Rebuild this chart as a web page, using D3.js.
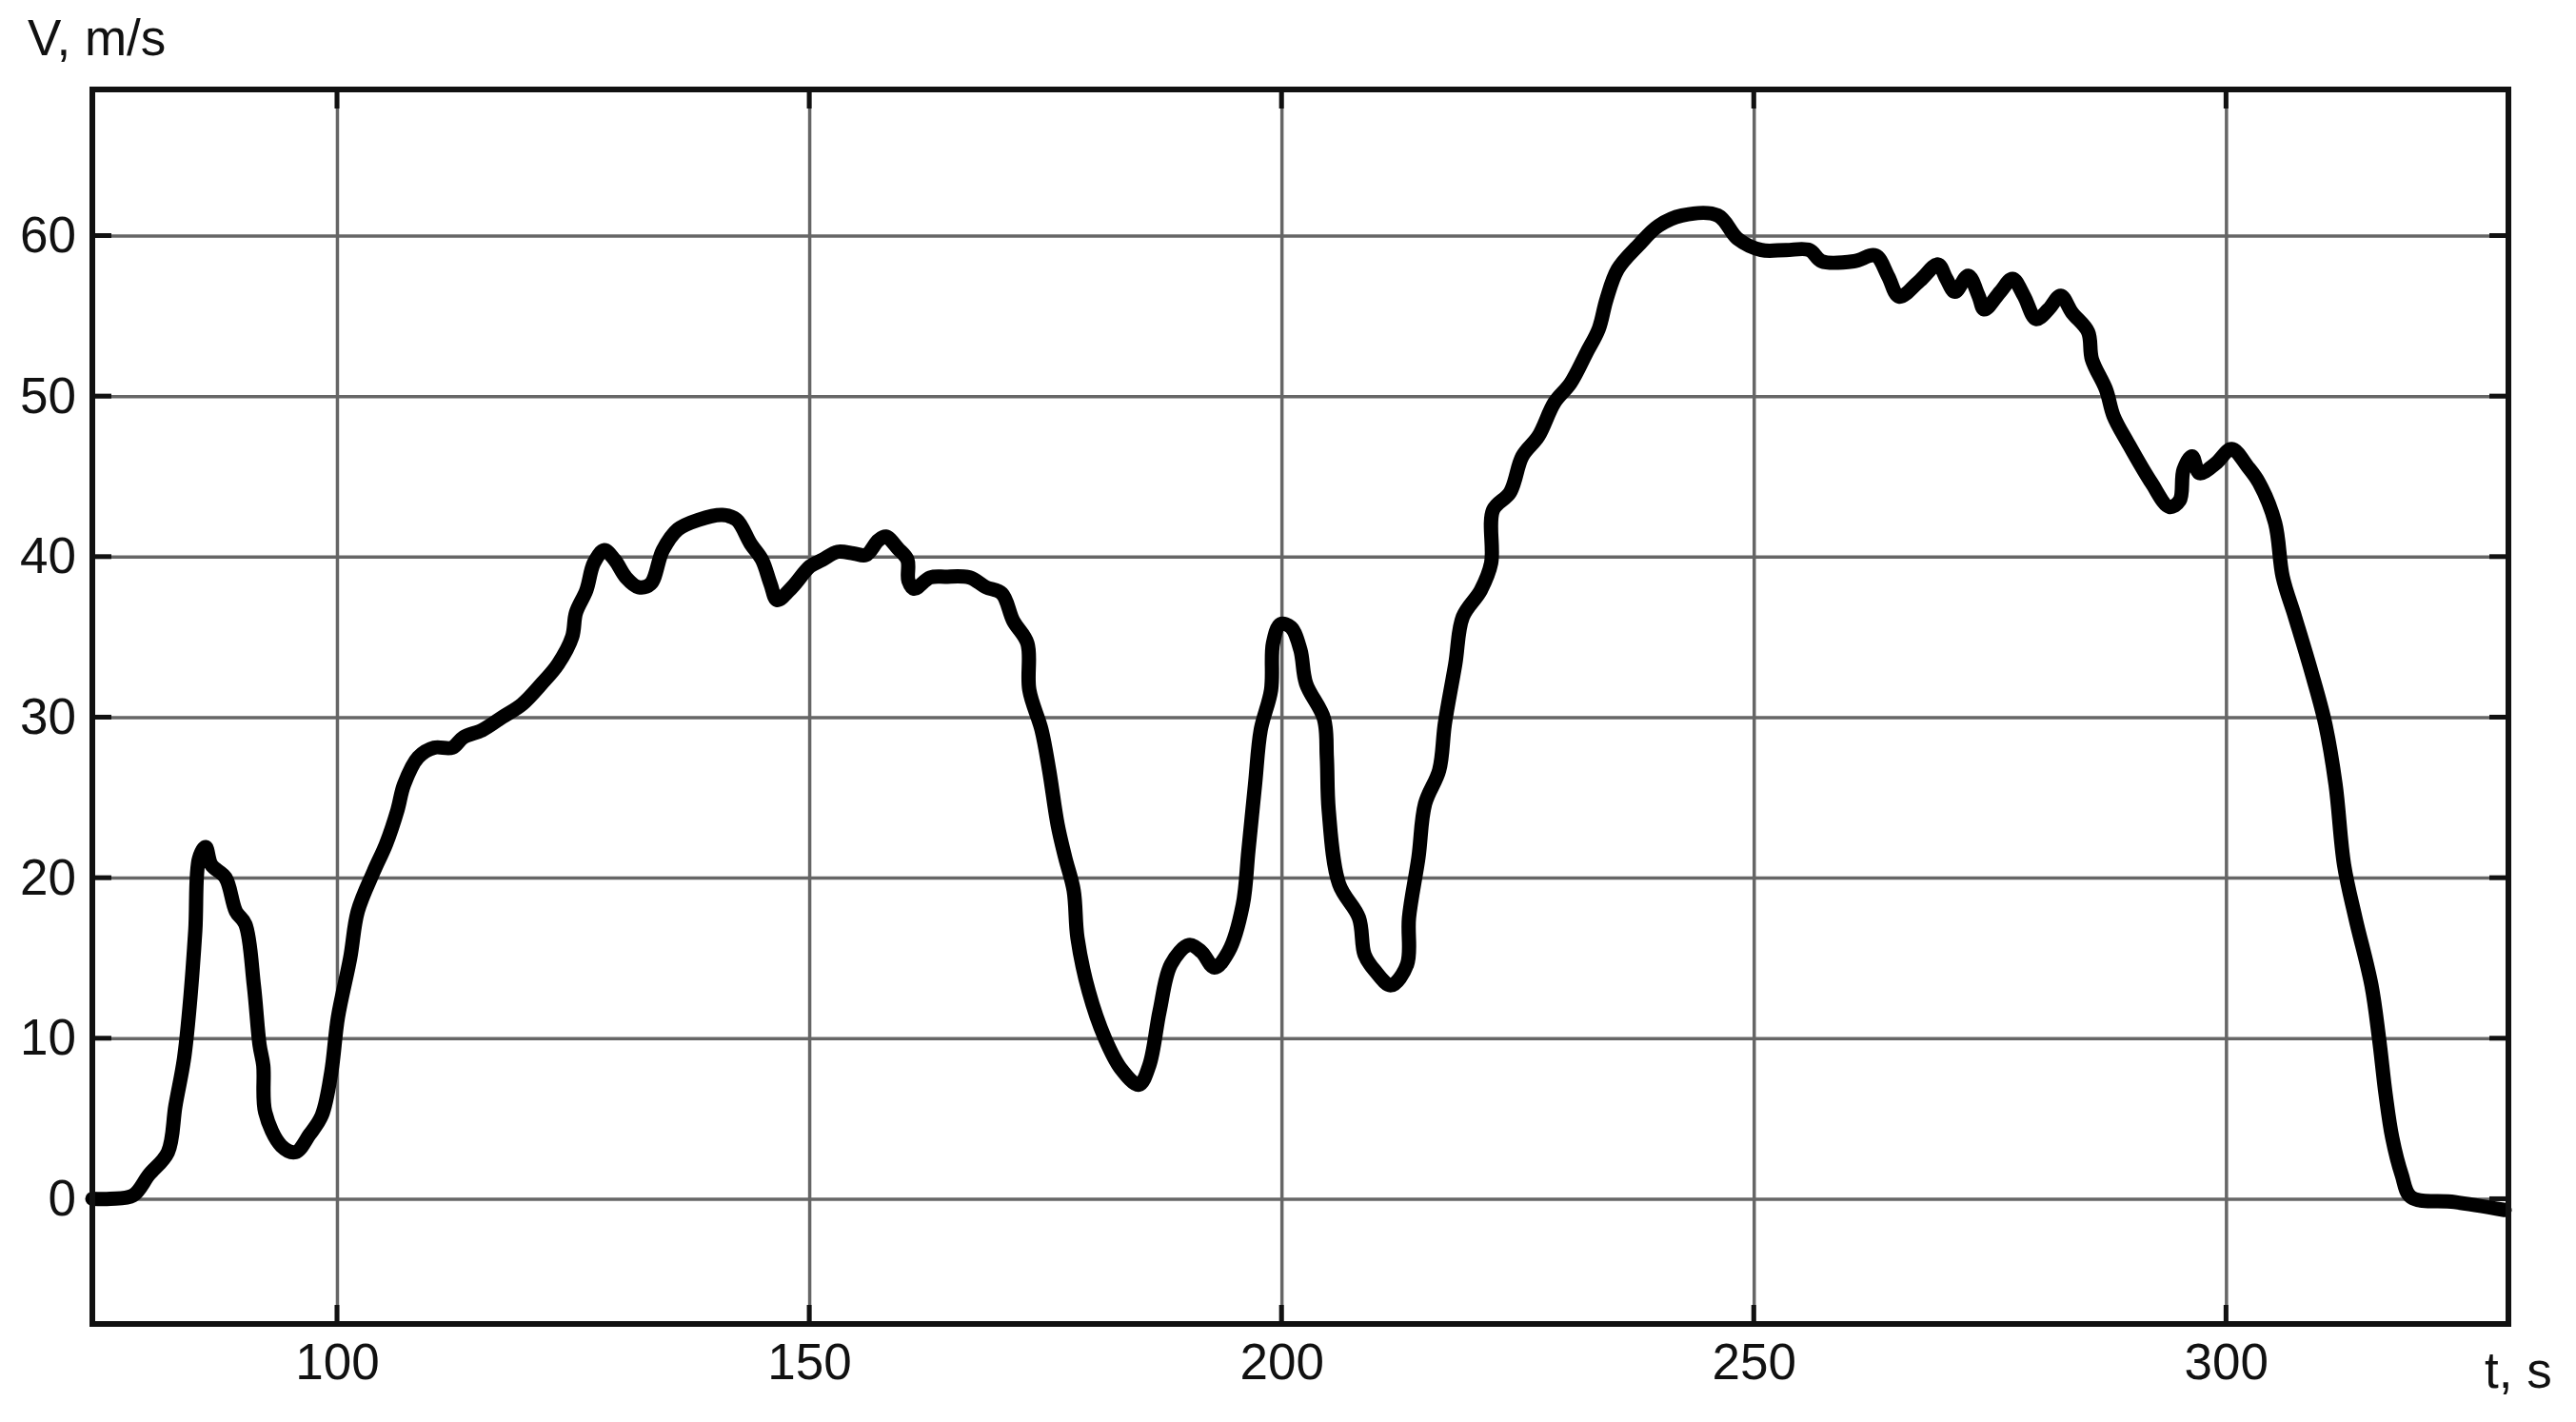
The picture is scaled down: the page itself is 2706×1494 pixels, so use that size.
<!DOCTYPE html>
<html>
<head>
<meta charset="utf-8">
<script src="https://cdn.jsdelivr.net/npm/d3@7"></script>
<style>
  body { margin: 0; background: #fff; }
  text { font-family: "Liberation Sans", Arial, sans-serif; fill: #111; }
</style>
</head>
<body>
<div id="chart"></div>
<script>
// speed record
const time_s = [74.1, 76, 78.4, 80.1, 82.1, 82.9, 83.8, 84.4, 85, 85.4, 86.1, 86.7, 88.2, 89.3, 90.3, 91.2, 91.8, 92.2, 92.4, 94.1,
  95.6, 97.1, 98.4, 99.4, 100.1, 101.4, 102.2, 103.9, 105.2, 106.4, 107.1, 108.6, 110.3, 112.2, 113.4, 115.4, 117.5, 119.6, 121.7, 123.4,
  124.9, 125.3, 126.4, 127.2, 128.3, 129.4, 130.6, 131.9, 133.2, 134.5, 136.1, 138.3, 140.8, 142.3, 143.8, 145, 145.9, 146.6, 148.2, 150.1,
  151.4, 153, 154.7, 156, 157.3, 158.1, 159.4, 160.4, 160.5, 161.1, 162.8, 164.4, 167, 168.7, 170.4, 171.6, 173.1, 173.3, 174.6, 175.4,
  176.3, 177.1, 178, 178.4, 179.6, 181.3, 183, 184.9, 186, 187.1, 188.3, 190.2, 191.5, 192.9, 194.4, 195.9, 196.5, 197.2, 197.8, 198.9,
  199.1, 199.9, 201, 202, 202.6, 204.5, 204.8, 205, 206.1, 208.2, 208.8, 209.9, 211.6, 213.3, 213.5, 214.5, 215.2, 216.7, 217.3, 218.4,
  219.2, 221.1, 222.2, 222.4, 224.2, 225.5, 227.2, 228.9, 230.6, 232.3, 233.6, 234.4, 235.6, 237.8, 239.9, 242.4, 246.2, 248.3, 250.8, 253.4,
  255.9, 257.2, 260.6, 262.9, 264.2, 265.4, 267.6, 269.5, 270.4, 271.3, 272.7, 273.8, 274.4, 276.1, 277.4, 278.6, 279.9, 281.2, 282.5, 283.7,
  285.4, 285.8, 287.3, 288.1, 289.6, 292.1, 294, 295.1, 295.5, 296.4, 297.2, 298.9, 300.6, 302.3, 303.5, 305.2, 306, 307.3, 309, 310.5,
  311.6, 312.5, 313.7, 315.4, 316.2, 316.9, 317.6, 318.6, 319.6, 324.2, 329.5];
const speed_ms = [0, 0, 0.2, 1.5, 2.9, 5.8, 8.7, 12, 16.7, 21.2, 21.9, 20.8, 20, 17.9, 17.1, 13.3, 9.6, 8.3, 5.4, 3.3,
  2.9, 4, 5.2, 7.9, 11.3, 15, 17.9, 20.4, 22.1, 24.2, 25.8, 27.5, 28.1, 28.1, 28.75, 29.2, 30, 30.8, 32.1, 33.3,
  35, 36.5, 37.9, 39.6, 40.4, 39.8, 38.7, 38.1, 38.3, 40.4, 41.7, 42.3, 42.6, 42.3, 40.8, 39.8, 38.3, 37.3, 38.1, 39.4,
  39.8, 40.3, 40.2, 40.1, 41, 41.25, 40.5, 39.8, 38.5, 38, 38.7, 38.75, 38.7, 38.1, 37.7, 36, 34.6, 31.7, 29.2, 26.7,
  23.3, 21.25, 19.2, 16.25, 12.9, 10, 8.1, 7.1, 8.3, 11.7, 14.6, 15.8, 15.4, 14.4, 15.4, 18.3, 21.7, 25.8, 29.2, 31.7,
  34.6, 35.8, 35.6, 34.2, 32.1, 29.9, 27.5, 24.2, 19.6, 17.5, 15.2, 14.2, 13.3, 14.6, 17.5, 21.25, 24.6, 26.7, 29.6, 33.3,
  36.25, 37.9, 39.6, 42.9, 44, 46.25, 47.5, 49.6, 50.8, 52.7, 54.2, 56, 57.9, 59.4, 60.6, 61.25, 61.25, 59.8, 59.1, 59.1,
  59.1, 58.4, 58.4, 58.75, 57.5, 56.2, 57.2, 58.2, 57.3, 56.5, 57.5, 56.25, 55.4, 56.5, 57.3, 56.25, 54.8, 55.4, 56.25, 55.2,
  54, 52.3, 50.4, 48.75, 47.1, 44.6, 43.1, 43.5, 45.4, 46.25, 45.2, 45.8, 46.7, 45.6, 44.6, 42.1, 38.75, 36.25, 32.9, 29.6,
  25.8, 20.8, 17.5, 13.3, 10, 6.5, 3.8, 1.5, 0.1, -0.2, -0.7];

const x_ticks = [100, 150, 200, 250, 300];
const y_ticks = [0, 10, 20, 30, 40, 50, 60];

var margin = { top: 94, right: 71, bottom: 103, left: 97 },
    width = 2706 - margin.left - margin.right,
    height = 1494 - margin.top - margin.bottom;

var svg = d3.select('#chart').append('svg')
    .attr('width', 2706)
    .attr('height', 1494)
  .append('g')
    .attr('transform', 'translate(' + margin.left + ',' + margin.top + ')');

var x = d3.scaleLinear()
    .domain([74.1, 329.9])
    .range([0, width]);

var y = d3.scaleLinear()
    .domain([-7.8, 69.1])
    .range([height, 0]);

// grid
svg.append('g')
    .attr('class', 'grid')
    .attr('transform', `translate(0,${height})`)
    .call(d3.axisBottom(x).tickValues(x_ticks).tickSize(-height).tickFormat(''))
    .call(g => g.select('.domain').remove());
svg.append('g')
    .attr('class', 'grid')
    .call(d3.axisLeft(y).tickValues(y_ticks).tickSize(-width).tickFormat(''))
    .call(g => g.select('.domain').remove());
svg.selectAll('.grid line')
    .attr('stroke', '#666')
    .attr('stroke-width', 3.5);

// tick stubs on all four sides
var stub = 20;
var stubs = svg.append('g').attr('stroke', '#111').attr('stroke-width', 5);
x_ticks.forEach(t => {
    stubs.append('line').attr('x1', x(t)).attr('x2', x(t)).attr('y1', height).attr('y2', height - stub);
    stubs.append('line').attr('x1', x(t)).attr('x2', x(t)).attr('y1', 0).attr('y2', stub);
});
y_ticks.forEach(v => {
    stubs.append('line').attr('x1', 0).attr('x2', stub).attr('y1', y(v)).attr('y2', y(v));
    stubs.append('line').attr('x1', width).attr('x2', width - stub).attr('y1', y(v)).attr('y2', y(v));
});

// tick labels
var xax = svg.append('g')
    .attr('transform', `translate(0,${height})`)
    .call(d3.axisBottom(x).tickValues(x_ticks).tickSize(0).tickPadding(20));
var yax = svg.append('g')
    .call(d3.axisLeft(y).tickValues(y_ticks).tickSize(0).tickPadding(17));
[xax, yax].forEach(a => {
    a.select('.domain').remove();
    a.selectAll('text')
        .attr('font-size', 53)
        .attr('font-family', '"Liberation Sans", Arial, sans-serif')
        .attr('fill', '#111');
});

// speed curve
var line = d3.line()
    .x((d, i) => x(time_s[i]))
    .y(d => y(d))
    .curve(d3.curveCatmullRom.alpha(0.5));

svg.append('path')
    .datum(speed_ms)
    .attr('d', line)
    .attr('fill', 'none')
    .attr('stroke', '#000')
    .attr('stroke-width', 15)
    .attr('stroke-linejoin', 'round')
    .attr('stroke-linecap', 'round');

// frame
svg.append('rect')
    .attr('x', 0).attr('y', 0)
    .attr('width', width).attr('height', height)
    .attr('fill', 'none')
    .attr('stroke', '#111')
    .attr('stroke-width', 6);

// axis titles
svg.append('text')
    .attr('x', 29 - margin.left)
    .attr('y', 58 - margin.top)
    .attr('font-size', 53)
    .text('V, m/s');
svg.append('text')
    .attr('x', 2610 - margin.left)
    .attr('y', 1458 - margin.top)
    .attr('font-size', 53)
    .text('t, s');
</script>
</body>
</html>
